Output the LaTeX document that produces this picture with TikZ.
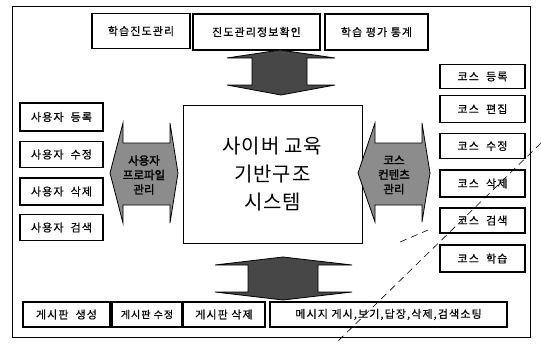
\documentclass[tikz,border=0pt]{standalone}
\usepackage{fontspec}
\newfontfamily\kr[FakeBold=0.6,LetterSpace=10]{Noto Sans CJK KR}
\newfontfamily\krc[LetterSpace=4]{Noto Sans CJK KR}
\newfontfamily\krb[FakeBold=2]{Noto Sans CJK KR}
\begin{document}
\begin{tikzpicture}[x=1pt,y=-1pt,
  box/.style={draw=black,line width=1.1pt,inner sep=0pt,font=\kr\fontsize{11}{13}\selectfont},
  arrowshape/.style={draw=black,line width=0.8pt},
  lightfill/.style={fill=black!45},
  darkfill/.style={fill=black!72},
  arrowtext/.style={font=\krb\fontsize{11.5}{14.5}\selectfont,align=center,text=black},
  scanline/.style={draw=black,line width=0.6pt,dash pattern=on 7pt off 5pt}]
\useasboundingbox (0,0) rectangle (541,343);
% outer frame
\node[draw=black,line width=0.8pt,minimum width=518pt,minimum height=331pt,inner sep=0pt] (frame) at (271,171.5) {};
% top boxes
\node[box,minimum width=98pt,minimum height=35pt] (t1) at (141,31) {학습진도관리};
\node[box,minimum width=127pt,minimum height=36pt] (t2) at (256.5,32) {진도관리정보확인};
\node[box,minimum width=103pt,minimum height=36pt] (t3) at (376.5,32) {학습\ 평가\ 통계};
% center
\node[draw=black,line width=1pt,minimum width=179pt,minimum height=138pt,align=center,
  font=\krc\fontsize{20}{28}\selectfont] (center) at (272.5,174) {사이버 교육\\기반구조\\시스템};
% top arrow
\path[arrowshape,darkfill] (280,50) -- (335,58) -- (307,58) -- (307,85) -- (335,85) -- (281,95) -- (227,85) -- (252,85) -- (252,58) -- (227,58) -- cycle;
\node (toparrow) at (280,72) {};
% bottom arrow
\path[arrowshape,darkfill] (283,257) -- (352,265) -- (318,265) -- (318,292) -- (352,292) -- (283,300) -- (215,292) -- (248,292) -- (248,265) -- (215,265) -- cycle;
\node (botarrow) at (283,278) {};
% left arrow
\path[arrowshape,lightfill] (110,173) -- (123,123) -- (123,143) -- (170,143) -- (170,123) -- (178,173) -- (170,223) -- (170,205) -- (123,205) -- (123,223) -- cycle;
\node[arrowtext] (leftarrow) at (144,175) {사용자\\프로파일\\관리};
% right arrow
\path[arrowshape,lightfill] (358,173) -- (375,123) -- (375,143) -- (422,143) -- (422,123) -- (430,173) -- (422,222) -- (422,205) -- (375,205) -- (375,222) -- cycle;
\node[arrowtext] (rightarrow) at (394,175) {코스\\컨텐츠\\관리};
% left boxes
\node[box,minimum width=83pt,minimum height=28pt] (l1) at (61.5,117) {사용자\ \ 등록};
\node[box,minimum width=83pt,minimum height=26pt] (l2) at (61.5,154.5) {사용자\ \ 수정};
\node[box,minimum width=83pt,minimum height=27pt] (l3) at (61.5,191.5) {사용자\ \ 삭제};
\node[box,minimum width=83pt,minimum height=26pt] (l4) at (61.5,227.5) {사용자\ \ 검색};
% right boxes
\node[box,minimum width=85pt,minimum height=24pt] (r1) at (482.5,76.5) {코스\ \ 등록};
\node[box,minimum width=85pt,minimum height=27pt] (r2) at (482.5,109) {코스\ \ 편집};
\node[box,minimum width=85pt,minimum height=25pt] (r3) at (482.5,146) {코스\ \ 수정};
\node[box,minimum width=85pt,minimum height=27pt] (r4) at (482.5,183.5) {코스\ \ 삭제};
\node[box,minimum width=85pt,minimum height=25pt] (r5) at (482.5,220.5) {코스\ \ 검색};
\node[box,minimum width=85pt,minimum height=27pt] (r6) at (482.5,258.5) {코스\ \ 학습};
% bottom boxes
\node[box,minimum width=87pt,minimum height=25pt] (b1) at (66.5,314.5) {게시판\ \ 생성};
\node[box,minimum width=70pt,minimum height=25pt,font=\kr\fontsize{10}{12}\selectfont] (b2) at (147,314.5) {게시판\ 수정};
\node[box,minimum width=82pt,minimum height=25pt] (b3) at (224,314.5) {게시판\ 삭제};
\node[box,minimum width=237pt,minimum height=25pt] (b4) at (388.5,314.5) {메시지\ 게시,보기,답장,삭제,검색소팅};
% scan lines
\coordinate (s1) at (541,143);
\coordinate (s2) at (336,343);
\coordinate (s3) at (400,242);
\coordinate (s4) at (428,230);
\draw[scanline] (s1) -- (s2);
\draw[scanline] (s3) -- (s4);
\end{tikzpicture}
\end{document}
